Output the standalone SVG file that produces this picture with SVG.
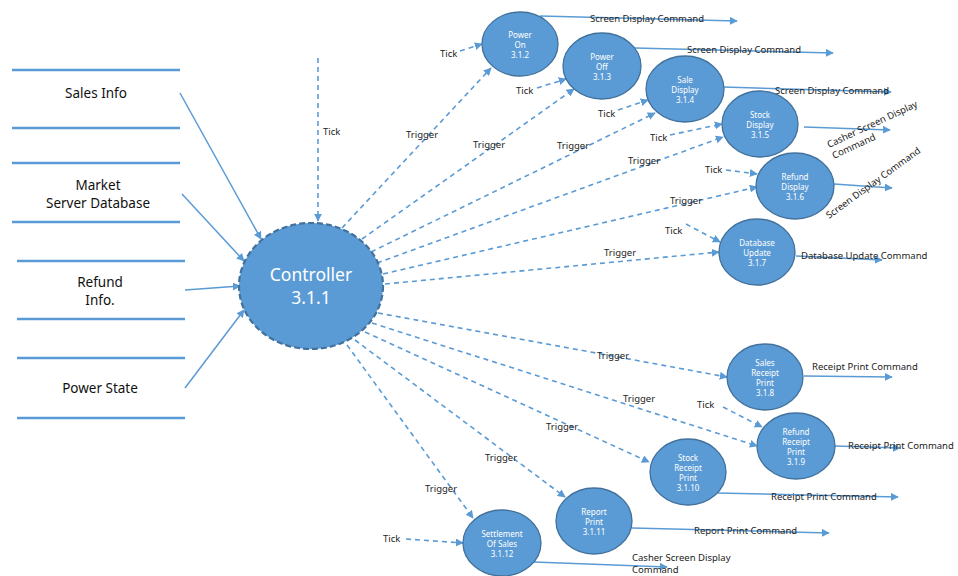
<svg xmlns="http://www.w3.org/2000/svg" width="958" height="576" viewBox="0 0 958 576">
<style>
.bg{fill:#fff}
.store{stroke:#5b9bd5;stroke-width:2.5}
.st{font-family:"Noto Sans","Liberation Sans",sans-serif;font-size:13.5px;fill:#111;text-anchor:middle}
.node{fill:#5b9bd5;stroke:#41719c;stroke-width:1.3}
.ctrl{fill:#5b9bd5;stroke:#41719c;stroke-width:2.2;stroke-dasharray:6,3}
.nt{font-family:"Noto Sans","Liberation Sans",sans-serif;font-size:8px;fill:#fff;text-anchor:middle}
.ct{font-family:"Noto Sans","Liberation Sans",sans-serif;font-size:17.5px;fill:#fff;text-anchor:middle}
.solid{stroke:#5b9bd5;stroke-width:1.5;fill:none;marker-end:url(#ah)}
.dash{stroke:#5b9bd5;stroke-width:1.6;fill:none;stroke-dasharray:5,4;marker-end:url(#ah)}
.lb{font-family:"Noto Sans","Liberation Sans",sans-serif;font-size:9.5px;fill:#222}
.lbc{font-family:"Noto Sans","Liberation Sans",sans-serif;font-size:9.5px;fill:#222;text-anchor:middle}
</style>
<defs>
<marker id="ah" viewBox="0 0 10 10" refX="9" refY="5" markerWidth="8" markerHeight="8" markerUnits="userSpaceOnUse" orient="auto">
<path d="M0,0 L10,5 L0,10 z" fill="#5b9bd5"/>
</marker>
</defs>
<rect class="bg" x="0" y="0" width="958" height="576"/>

<g id="stores">
<g id="store-sales">
<line class="store" x1="12" y1="70" x2="180" y2="70"/>
<line class="store" x1="12" y1="128" x2="180" y2="128"/>
<text class="st" x="96" y="98">Sales Info</text>
</g>
<g id="store-market">
<line class="store" x1="12" y1="163" x2="180" y2="163"/>
<line class="store" x1="12" y1="222" x2="180" y2="222"/>
<text class="st" x="98" y="190">Market</text>
<text class="st" x="98" y="208">Server Database</text>
</g>
<g id="store-refund">
<line class="store" x1="17" y1="261" x2="185" y2="261"/>
<line class="store" x1="17" y1="319" x2="185" y2="319"/>
<text class="st" x="100" y="287">Refund</text>
<text class="st" x="100" y="305">Info.</text>
</g>
<g id="store-power">
<line class="store" x1="17" y1="358" x2="185" y2="358"/>
<line class="store" x1="17" y1="418" x2="185" y2="418"/>
<text class="st" x="100" y="393">Power State</text>
</g>
</g>

<g id="connectors">
<!-- stores to controller -->
<line class="solid" x1="180" y1="93" x2="261" y2="239"/>
<line class="solid" x1="182" y1="194" x2="244" y2="261"/>
<line class="solid" x1="185" y1="290" x2="240" y2="286"/>
<line class="solid" x1="185" y1="388" x2="244" y2="310"/>
<!-- tick into controller -->
<line class="dash" x1="318" y1="58" x2="318" y2="221"/>
<text class="lb" x="323" y="135">Tick</text>

<!-- triggers -->
<line class="dash" x1="342" y1="228" x2="491" y2="68"/>
<text class="lb" x="406" y="138">Trigger</text>
<line class="dash" x1="362" y1="239" x2="574" y2="89"/>
<text class="lb" x="473" y="148">Trigger</text>
<line class="dash" x1="371" y1="252" x2="655" y2="113"/>
<text class="lb" x="557" y="149">Trigger</text>
<line class="dash" x1="377" y1="263" x2="723" y2="137"/>
<text class="lb" x="628" y="164">Trigger</text>
<line class="dash" x1="383" y1="274" x2="757" y2="187"/>
<text class="lb" x="670" y="204">Trigger</text>
<line class="dash" x1="385" y1="284" x2="719" y2="252"/>
<text class="lb" x="604" y="256">Trigger</text>

<line class="dash" x1="378" y1="313" x2="727" y2="377"/>
<text class="lb" x="597" y="359">Trigger</text>
<line class="dash" x1="372" y1="323" x2="757" y2="446"/>
<text class="lb" x="623" y="402">Trigger</text>
<line class="dash" x1="365" y1="332" x2="649" y2="462"/>
<text class="lb" x="546" y="430">Trigger</text>
<line class="dash" x1="355" y1="340" x2="565" y2="497"/>
<text class="lb" x="485" y="461">Trigger</text>
<line class="dash" x1="347" y1="345" x2="473" y2="518"/>
<text class="lb" x="425" y="492">Trigger</text>

<!-- ticks -->
<line class="dash" x1="460" y1="51" x2="482" y2="44"/>
<text class="lb" x="440" y="57">Tick</text>
<line class="dash" x1="537" y1="88" x2="566" y2="79"/>
<text class="lb" x="516" y="94">Tick</text>
<line class="dash" x1="618" y1="110" x2="648" y2="100"/>
<text class="lb" x="598" y="117">Tick</text>
<line class="dash" x1="670" y1="135" x2="722" y2="124"/>
<text class="lb" x="650" y="141">Tick</text>
<line class="dash" x1="726" y1="170" x2="757" y2="174"/>
<text class="lb" x="705" y="173">Tick</text>
<line class="dash" x1="686" y1="224" x2="720" y2="242"/>
<text class="lb" x="665" y="234">Tick</text>
<line class="dash" x1="723" y1="407" x2="762" y2="427"/>
<text class="lb" x="697" y="408">Tick</text>
<line class="dash" x1="406" y1="539" x2="463" y2="543"/>
<text class="lb" x="383" y="542">Tick</text>

<!-- outputs -->
<line class="solid" x1="540" y1="16" x2="737" y2="21"/>
<text class="lb" x="590" y="22">Screen Display Command</text>
<line class="solid" x1="635" y1="48" x2="833" y2="53"/>
<text class="lb" x="687" y="53">Screen Display Command</text>
<line class="solid" x1="723" y1="87" x2="891" y2="92"/>
<text class="lb" x="775" y="94">Screen Display Command</text>
<line class="solid" x1="804" y1="127" x2="890" y2="130"/>
<g transform="translate(829,148) rotate(-25)">
<text class="lb" x="0" y="0">Casher Screen Display</text>
<text class="lb" x="0" y="12">Command</text>
</g>
<line class="solid" x1="834" y1="184" x2="892" y2="188"/>
<text class="lb" transform="translate(829,219) rotate(-36)">Screen Display Command</text>
<line class="solid" x1="796" y1="256" x2="882" y2="260"/>
<text class="lb" x="801" y="259">Database Update Command</text>
<line class="solid" x1="804" y1="376" x2="892" y2="377"/>
<text class="lb" x="812" y="370">Receipt Print Command</text>
<line class="solid" x1="835" y1="446" x2="900" y2="448"/>
<text class="lb" x="848" y="449">Receipt Print Command</text>
<line class="solid" x1="717" y1="493" x2="898" y2="497"/>
<text class="lb" x="771" y="500">Receipt Print Command</text>
<line class="solid" x1="632" y1="528" x2="829" y2="533"/>
<text class="lb" x="694" y="534">Report Print Command</text>
<line class="solid" x1="534" y1="562" x2="667" y2="567"/>
<text class="lb" x="632" y="561">Casher Screen Display</text>
<text class="lb" x="632" y="573">Command</text>
</g>

<g id="controller">
<ellipse class="ctrl" cx="311" cy="286" rx="72" ry="63"/>
<text class="ct" x="311" y="281">Controller</text>
<text class="ct" x="311" y="304">3.1.1</text>
</g>

<g id="n312">
<ellipse class="node" cx="520" cy="44" rx="38" ry="32"/>
<text class="nt" x="520" y="38">Power</text><text class="nt" x="520" y="48">On</text><text class="nt" x="520" y="58">3.1.2</text>
</g>
<g id="n313">
<ellipse class="node" cx="602" cy="66" rx="39" ry="33"/>
<text class="nt" x="602" y="60">Power</text><text class="nt" x="602" y="70">Off</text><text class="nt" x="602" y="80">3.1.3</text>
</g>
<g id="n314">
<ellipse class="node" cx="685" cy="89" rx="39" ry="33"/>
<text class="nt" x="685" y="83">Sale</text><text class="nt" x="685" y="93">Display</text><text class="nt" x="685" y="103">3.1.4</text>
</g>
<g id="n315">
<ellipse class="node" cx="760" cy="124" rx="38" ry="33"/>
<text class="nt" x="760" y="118">Stock</text><text class="nt" x="760" y="128">Display</text><text class="nt" x="760" y="138">3.1.5</text>
</g>
<g id="n316">
<ellipse class="node" cx="795" cy="186" rx="39" ry="33"/>
<text class="nt" x="795" y="180">Refund</text><text class="nt" x="795" y="190">Display</text><text class="nt" x="795" y="200">3.1.6</text>
</g>
<g id="n317">
<ellipse class="node" cx="757" cy="252" rx="38" ry="33"/>
<text class="nt" x="757" y="246">Database</text><text class="nt" x="757" y="256">Update</text><text class="nt" x="757" y="266">3.1.7</text>
</g>
<g id="n318">
<ellipse class="node" cx="765" cy="377" rx="38" ry="33"/>
<text class="nt" x="765" y="366">Sales</text><text class="nt" x="765" y="376">Receipt</text><text class="nt" x="765" y="386">Print</text><text class="nt" x="765" y="396">3.1.8</text>
</g>
<g id="n319">
<ellipse class="node" cx="796" cy="446" rx="39" ry="33"/>
<text class="nt" x="796" y="435">Refund</text><text class="nt" x="796" y="445">Receipt</text><text class="nt" x="796" y="455">Print</text><text class="nt" x="796" y="465">3.1.9</text>
</g>
<g id="n3110">
<ellipse class="node" cx="688" cy="472" rx="38" ry="33"/>
<text class="nt" x="688" y="461">Stock</text><text class="nt" x="688" y="471">Receipt</text><text class="nt" x="688" y="481">Print</text><text class="nt" x="688" y="491">3.1.10</text>
</g>
<g id="n3111">
<ellipse class="node" cx="594" cy="521" rx="38" ry="33"/>
<text class="nt" x="594" y="515">Report</text><text class="nt" x="594" y="525">Print</text><text class="nt" x="594" y="535">3.1.11</text>
</g>
<g id="n3112">
<ellipse class="node" cx="502" cy="543" rx="39" ry="33"/>
<text class="nt" x="502" y="537">Settlement</text><text class="nt" x="502" y="547">Of Sales</text><text class="nt" x="502" y="557">3.1.12</text>
</g>
</svg>
